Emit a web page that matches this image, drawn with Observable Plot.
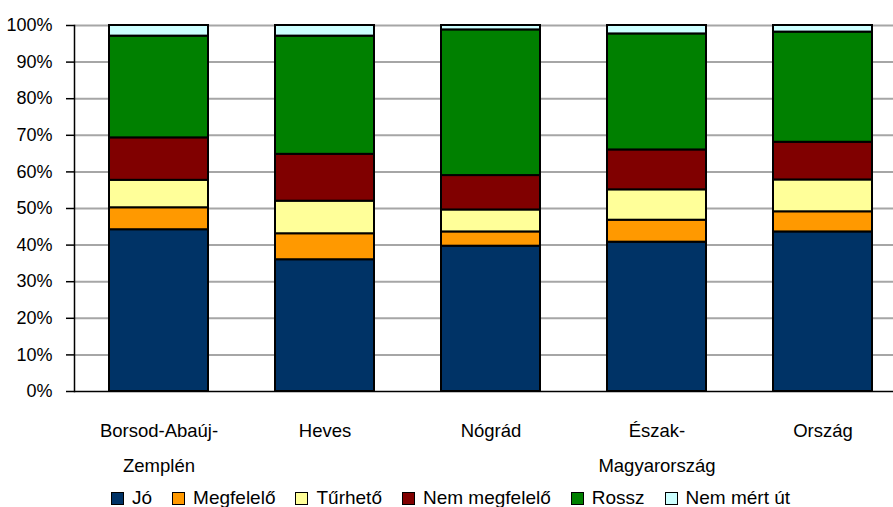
<!DOCTYPE html>
<html>
<head>
<meta charset="utf-8">
<script src="https://cdn.jsdelivr.net/npm/d3@7"></script>
<script src="https://cdn.jsdelivr.net/npm/@observablehq/plot@0.6"></script>
<style>
  html, body { margin: 0; padding: 0; background: #fff; }
  #wrap { position: relative; width: 893px; height: 507px; overflow: hidden; font-family: "Liberation Sans", Arial, sans-serif; }
  #legend { position: absolute; left: 111px; top: 487px; display: flex; align-items: center; gap: 20px; font-size: 19px; color: #000; white-space: nowrap; }
  #legend .item { display: flex; align-items: center; gap: 8px; }
  #legend .sw { width: 11px; height: 11px; border: 1.5px solid #000; }
</style>
</head>
<body>
<div id="wrap"></div>
<script>
const categories = ["Borsod-Abaúj-Zemplén", "Heves", "Nógrád", "Észak-Magyarország", "Ország"];
const tickLabels = ["Borsod-Abaúj-\nZemplén", "Heves", "Nógrád", "Észak-\nMagyarország", "Ország"];
const series = ["Jó", "Megfelelő", "Tűrhető", "Nem megfelelő", "Rossz", "Nem mért út"];
const colors = ["#003366", "#FF9900", "#FFFF99", "#800000", "#008000", "#CCFFFF"];

const jo           = [44.2, 36.0, 39.7, 40.8, 43.6];
const megfelelo    = [6.0, 7.1, 3.9, 6.0, 5.5];
const turheto      = [7.5, 8.9, 6.0, 8.3, 8.7];
const nemMegfelelo = [11.6, 12.8, 9.4, 10.9, 10.3];
const rossz        = [27.8, 32.3, 39.8, 31.7, 30.1];
const nemMert      = [2.9, 2.9, 1.2, 2.3, 1.8];

const yTicks = [0, 0.1, 0.2, 0.3, 0.4, 0.5, 0.6, 0.7, 0.8, 0.9, 1];

const seriesValues = [jo, megfelelo, turheto, nemMegfelelo, rossz, nemMert];
const rows = [];
series.forEach((s, si) => {
  categories.forEach((c, ci) => {
    rows.push({category: c, series: s, value: seriesValues[si][ci] / 100});
  });
});

const chart = Plot.plot({
  width: 893,
  height: 507,
  marginLeft: 74,
  marginTop: 25,
  marginBottom: 116,
  marginRight: 0,
  style: {fontFamily: "'Liberation Sans', Arial, sans-serif", fontSize: "18px", color: "#000", background: "#fff"},
  x: {domain: categories, range: [74, 907], paddingInner: 0.406, paddingOuter: 0.203, label: null},
  y: {domain: [0, 1], label: null},
  color: {domain: series, range: colors},
  marks: [
    Plot.ruleY(yTicks.slice(1), {stroke: "#a6a6a6", strokeWidth: 2}),
    Plot.barY(rows, {x: "category", y: "value", fill: "series", stroke: "#000", strokeWidth: 2}),
    Plot.ruleY([0], {stroke: "#000", strokeWidth: 1.5}),
    Plot.frame({anchor: "left", stroke: "#000", strokeWidth: 1.5}),
    Plot.axisY({ticks: yTicks, tickFormat: d3.format(".0%"), tickSize: 8, tickPadding: 14, fontSize: 18, stroke: "#000", strokeWidth: 1.5, label: null}),
    Plot.axisX({tickSize: 0, tickPadding: 21, fontSize: 18.5, lineHeight: 1.89, tickFormat: (d) => tickLabels[categories.indexOf(d)], label: null})
  ]
});

const wrap = document.getElementById("wrap");
wrap.appendChild(chart);

const legend = document.createElement("div");
legend.id = "legend";
series.forEach((s, i) => {
  const item = document.createElement("div");
  item.className = "item";
  const sw = document.createElement("div");
  sw.className = "sw";
  sw.style.background = colors[i];
  const t = document.createElement("span");
  t.textContent = s;
  item.appendChild(sw);
  item.appendChild(t);
  legend.appendChild(item);
});
wrap.appendChild(legend);
</script>
</body>
</html>
